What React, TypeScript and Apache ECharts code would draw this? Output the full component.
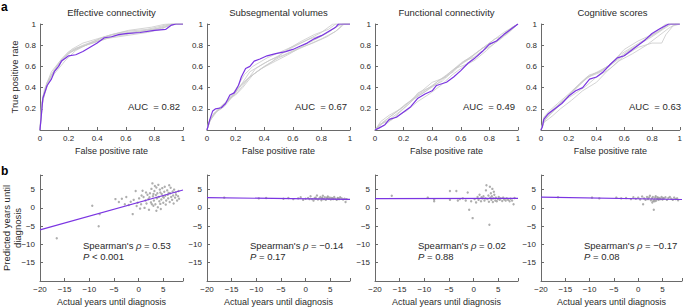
import React, { useEffect, useRef } from "react";
import * as echarts from "echarts";

// ---------- Data ----------
const panelTitles = ["Effective connectivity", "Subsegmental volumes", "Functional connectivity", "Cognitive scores"];
const aucLabels = ["AUC  = 0.82", "AUC  = 0.67", "AUC  = 0.49", "AUC  = 0.63"];
const rocTicks = [0, 0.2, 0.4, 0.6, 0.8, 1];

const ecPurple = [[0,0],[0.01,0.15],[0.02,0.3],[0.05,0.42],[0.08,0.48],[0.1,0.55],[0.13,0.6],[0.15,0.65],[0.18,0.68],[0.2,0.7],[0.25,0.71],[0.3,0.74],[0.35,0.78],[0.4,0.82],[0.45,0.87],[0.5,0.88],[0.55,0.9],[0.6,0.91],[0.7,0.92],[0.8,0.94],[0.88,0.95],[0.92,0.99],[0.95,1],[1,1]];
const ecGrey = [
  [[0,0],[0.02,0.3],[0.05,0.45],[0.1,0.57],[0.15,0.67],[0.2,0.74],[0.3,0.8],[0.4,0.85],[0.5,0.9],[0.6,0.93],[0.75,0.95],[0.85,0.98],[0.9,1],[1,1]],
  [[0,0],[0.01,0.2],[0.04,0.4],[0.08,0.52],[0.13,0.62],[0.2,0.72],[0.28,0.78],[0.38,0.83],[0.5,0.88],[0.6,0.9],[0.7,0.93],[0.82,0.96],[0.92,1],[1,1]],
  [[0,0],[0.02,0.28],[0.06,0.46],[0.1,0.55],[0.15,0.64],[0.22,0.76],[0.3,0.82],[0.4,0.86],[0.5,0.9],[0.62,0.94],[0.78,0.97],[0.88,1],[1,1]],
  [[0,0],[0.01,0.25],[0.05,0.42],[0.1,0.53],[0.18,0.66],[0.25,0.75],[0.35,0.82],[0.45,0.88],[0.55,0.91],[0.68,0.93],[0.8,0.95],[0.9,0.98],[0.95,1],[1,1]],
  [[0,0],[0.02,0.32],[0.05,0.44],[0.12,0.6],[0.18,0.7],[0.25,0.77],[0.32,0.8],[0.42,0.84],[0.55,0.9],[0.65,0.92],[0.75,0.93],[0.85,0.96],[0.93,1],[1,1]],
  [[0,0],[0.01,0.22],[0.03,0.38],[0.08,0.55],[0.14,0.65],[0.2,0.73],[0.3,0.79],[0.45,0.86],[0.55,0.88],[0.65,0.9],[0.75,0.92],[0.85,0.95],[0.9,0.99],[1,1]],
];

const svPurple = [[0,0],[0.01,0.05],[0.02,0.1],[0.04,0.18],[0.06,0.2],[0.1,0.21],[0.13,0.25],[0.16,0.33],[0.19,0.35],[0.22,0.42],[0.24,0.5],[0.27,0.58],[0.3,0.6],[0.33,0.65],[0.37,0.67],[0.42,0.7],[0.48,0.72],[0.55,0.74],[0.6,0.76],[0.65,0.79],[0.7,0.82],[0.75,0.86],[0.8,0.89],[0.85,0.93],[0.9,0.97],[0.92,1],[1,1]];
const svGrey = [
  [[0,0],[0.02,0.08],[0.05,0.15],[0.1,0.22],[0.15,0.28],[0.2,0.36],[0.25,0.45],[0.3,0.55],[0.4,0.63],[0.5,0.7],[0.6,0.78],[0.7,0.85],[0.8,0.92],[0.88,1],[1,1]],
  [[0,0],[0.02,0.1],[0.06,0.17],[0.12,0.24],[0.18,0.32],[0.24,0.42],[0.3,0.5],[0.38,0.58],[0.48,0.65],[0.58,0.72],[0.68,0.8],[0.78,0.87],[0.86,0.93],[0.93,1],[1,1]],
  [[0,0],[0.01,0.06],[0.04,0.14],[0.08,0.2],[0.14,0.27],[0.2,0.38],[0.26,0.52],[0.32,0.6],[0.42,0.68],[0.52,0.74],[0.62,0.8],[0.72,0.86],[0.82,0.9],[0.9,0.97],[0.95,1],[1,1]],
  [[0,0],[0.03,0.12],[0.07,0.18],[0.12,0.22],[0.17,0.3],[0.22,0.4],[0.28,0.48],[0.35,0.55],[0.45,0.64],[0.55,0.75],[0.65,0.83],[0.75,0.9],[0.85,0.95],[0.9,1],[1,1]],
  [[0,0],[0.02,0.09],[0.05,0.16],[0.1,0.2],[0.16,0.3],[0.21,0.35],[0.27,0.45],[0.34,0.58],[0.44,0.66],[0.54,0.71],[0.64,0.77],[0.74,0.82],[0.84,0.88],[0.92,0.95],[0.96,1],[1,1]],
  [[0,0],[0.01,0.07],[0.05,0.14],[0.09,0.21],[0.15,0.29],[0.2,0.33],[0.25,0.4],[0.32,0.52],[0.4,0.6],[0.5,0.68],[0.6,0.74],[0.7,0.8],[0.8,0.86],[0.9,0.93],[0.95,1],[1,1]],
];

const fcPurple = [[0,0],[0.03,0.02],[0.07,0.05],[0.1,0.1],[0.15,0.12],[0.2,0.17],[0.25,0.22],[0.3,0.3],[0.35,0.34],[0.4,0.37],[0.43,0.42],[0.5,0.45],[0.55,0.5],[0.6,0.56],[0.65,0.63],[0.7,0.68],[0.75,0.74],[0.8,0.81],[0.85,0.84],[0.9,0.9],[0.95,0.95],[1,1]];
const fcGrey = [
  [[0,0],[0.1,0.12],[0.2,0.22],[0.3,0.33],[0.4,0.42],[0.5,0.52],[0.6,0.62],[0.7,0.72],[0.8,0.82],[0.9,0.92],[1,1]],
  [[0,0],[0.05,0.06],[0.12,0.1],[0.2,0.2],[0.28,0.3],[0.36,0.37],[0.45,0.47],[0.55,0.55],[0.62,0.65],[0.72,0.7],[0.8,0.8],[0.88,0.87],[0.95,0.96],[1,1]],
  [[0,0],[0.04,0.08],[0.1,0.14],[0.18,0.2],[0.25,0.28],[0.32,0.36],[0.4,0.45],[0.5,0.5],[0.58,0.6],[0.66,0.67],[0.75,0.77],[0.85,0.84],[0.92,0.93],[1,1]],
  [[0,0],[0.06,0.04],[0.14,0.12],[0.22,0.18],[0.3,0.27],[0.38,0.34],[0.46,0.42],[0.54,0.52],[0.62,0.6],[0.7,0.66],[0.78,0.75],[0.86,0.85],[0.94,0.93],[1,1]],
  [[0,0],[0.03,0.05],[0.09,0.09],[0.16,0.16],[0.24,0.25],[0.3,0.35],[0.38,0.4],[0.47,0.46],[0.56,0.58],[0.64,0.62],[0.73,0.73],[0.82,0.8],[0.9,0.88],[0.96,0.97],[1,1]],
  [[0,0],[0.05,0.07],[0.13,0.15],[0.21,0.24],[0.29,0.31],[0.37,0.38],[0.44,0.44],[0.52,0.54],[0.6,0.63],[0.68,0.7],[0.76,0.78],[0.84,0.86],[0.92,0.9],[1,1]],
];

const csPurple = [[0,0],[0.01,0.03],[0.02,0.1],[0.05,0.15],[0.1,0.2],[0.15,0.25],[0.2,0.32],[0.25,0.37],[0.3,0.4],[0.35,0.48],[0.4,0.5],[0.45,0.55],[0.5,0.62],[0.55,0.68],[0.6,0.7],[0.65,0.75],[0.7,0.8],[0.75,0.85],[0.8,0.91],[0.85,0.95],[0.92,1],[1,1]];
const csGrey = [
  [[0,0],[0.02,0.12],[0.06,0.18],[0.12,0.25],[0.2,0.34],[0.28,0.44],[0.35,0.52],[0.45,0.56],[0.55,0.66],[0.65,0.76],[0.75,0.85],[0.85,0.93],[0.92,1],[1,1]],
  [[0,0],[0.02,0.08],[0.07,0.15],[0.14,0.24],[0.22,0.36],[0.3,0.46],[0.38,0.53],[0.48,0.6],[0.58,0.72],[0.68,0.8],[0.78,0.88],[0.88,0.96],[0.93,1],[1,1]],
  [[0,0],[0.03,0.1],[0.08,0.17],[0.15,0.27],[0.23,0.33],[0.32,0.41],[0.4,0.5],[0.5,0.58],[0.6,0.7],[0.7,0.78],[0.8,0.82],[0.87,0.82],[0.9,0.9],[0.95,0.98],[1,1]],
  [[0,0],[0.01,0.05],[0.05,0.14],[0.1,0.2],[0.18,0.3],[0.26,0.4],[0.34,0.5],[0.42,0.54],[0.52,0.64],[0.62,0.74],[0.72,0.82],[0.8,0.88],[0.88,0.95],[0.94,1],[1,1]],
  [[0,0],[0.03,0.13],[0.09,0.2],[0.16,0.28],[0.24,0.38],[0.33,0.5],[0.42,0.55],[0.5,0.62],[0.6,0.76],[0.7,0.84],[0.8,0.9],[0.86,0.96],[0.9,1],[1,1]],
  [[0,0],[0.02,0.07],[0.08,0.13],[0.14,0.2],[0.22,0.28],[0.3,0.37],[0.4,0.45],[0.48,0.56],[0.56,0.65],[0.66,0.72],[0.76,0.8],[0.84,0.88],[0.92,0.96],[0.97,1],[1,1]],
];

const spearmanTexts = [
  "Spearman's {i|ρ} = 0.53\n{i|P} < 0.001",
  "Spearman's {i|ρ} = −0.14\n{i|P} = 0.17",
  "Spearman's {i|ρ} = 0.02\n{i|P} = 0.88",
  "Spearman's {i|ρ} = −0.17\n{i|P} = 0.08",
];

const b1Points = [[-16.6,-8.3],[-9.4,0.6],[-8.1,-5.0],[-7.9,-1.7],[-4.7,2.4],[-4.0,1.6],[-3.4,2.5],[-2.8,1.0],[-2.5,3.0],[-2.0,0.8],[-1.6,1.7],[-1.2,-1.7],[-1.0,2.2],[-0.6,4.6],[-0.4,0.5],[-0.2,1.4],[0.1,2.6],[0.3,-0.2],[0.5,1.0],[0.8,4.7],[1.0,3.0],[1.2,0.0],[1.4,2.0],[1.6,1.2],[1.8,3.6],[2.0,2.4],[2.1,-0.5],[2.3,4.0],[2.5,1.5],[2.6,5.2],[2.8,6.7],[2.9,3.2],[3.0,0.6],[3.1,2.0],[3.2,4.6],[3.3,6.0],[3.4,1.0],[3.5,3.5],[3.6,5.6],[3.7,2.6],[3.8,4.0],[3.9,0.2],[4.0,6.3],[4.1,3.0],[4.2,1.8],[4.3,5.0],[4.4,4.2],[4.5,-0.3],[4.6,2.3],[4.7,3.8],[4.8,5.4],[5.0,1.4],[5.1,2.8],[5.2,4.4],[5.4,3.3],[5.5,0.9],[5.6,2.0],[5.8,4.8],[5.9,3.6],[6.0,2.6],[6.2,6.2],[6.3,1.6],[6.4,4.0],[6.5,5.5],[6.6,3.0],[6.8,2.2],[6.9,4.5],[7.0,3.4],[7.1,1.2],[7.2,5.0],[7.4,2.8],[7.5,4.2],[7.6,3.6],[7.8,2.0],[8.0,3.2],[8.1,4.6],[8.2,2.5],[3.0,3.8],[2.2,2.9],[1.5,4.2],[0.6,3.4],[4.9,3.1],[5.3,5.8],[6.1,4.1],[2.7,1.0],[3.6,-0.8],[4.4,1.1]];
const b2Points = [[-16.5,2.8],[-9.5,2.6],[-8,2.7],[-4.5,2.5],[-3.5,2.7],[-2.5,2.4],[-1.5,2.6],[-1,2.9],[-0.5,2.2],[0,2.5],[0.5,2.7],[1,3.2],[1.3,2.4],[1.6,2.0],[2,2.8],[2.3,3.4],[2.5,2.3],[2.8,2.6],[3,3.0],[3.2,2.1],[3.4,2.7],[3.5,3.3],[3.7,2.4],[3.9,2.9],[4.1,2.2],[4.3,2.6],[4.5,3.1],[4.7,2.5],[4.9,2.8],[5.1,2.3],[5.3,2.7],[5.6,2.4],[5.8,3.0],[6,2.5],[6.3,2.2],[6.5,2.7],[6.8,2.4],[7,2.9],[7.3,2.6],[7.6,2.3],[7.9,2.5],[8.1,1.6],[8.3,2.4],[2.1,2.5],[3.3,2.6],[4.4,2.8],[5.5,2.6],[6.6,2.6],[1.8,2.6],[0.8,2.4]];
const b3Points = [[-16.6,3.3],[-9.3,2.8],[-8,1.8],[-8,2.3],[-4.8,4.6],[-4.8,2.2],[-3.5,4.6],[-3.2,2.0],[-2.8,2.4],[-2.2,2.6],[-1.6,2.0],[-1.2,4.2],[-0.9,-0.5],[-0.5,1.8],[-0.2,-2.8],[0.2,2.4],[0.5,1.5],[0.8,3.0],[1.0,2.2],[1.2,3.6],[1.5,1.8],[1.8,2.6],[2.0,3.2],[2.2,2.0],[2.5,4.8],[2.6,6.2],[2.8,2.4],[3.0,3.4],[3.1,1.7],[3.2,-4.6],[3.3,5.8],[3.4,2.8],[3.5,4.0],[3.6,2.2],[3.7,3.2],[3.8,5.2],[3.9,1.6],[4.0,2.6],[4.1,4.4],[4.2,3.6],[4.4,2.0],[4.5,2.8],[4.7,1.8],[4.9,2.4],[5.1,3.0],[5.3,2.2],[5.5,2.6],[5.8,1.9],[6.0,2.8],[6.2,2.3],[6.5,2.0],[6.7,2.6],[7.0,2.2],[7.3,1.8],[7.5,2.5],[7.8,2.0],[8.1,1.0],[8.3,2.7],[2.4,2.6],[1.6,2.9]];
const b4Points = [[-16.5,2.9],[-9.5,2.8],[-8,2.6],[-4.5,2.8],[-3.5,2.6],[-2.5,2.7],[-1.5,2.4],[-1,2.9],[-0.5,2.5],[0,2.8],[0.4,2.3],[0.8,3.1],[1,1.0],[1.2,2.6],[1.5,2.2],[1.8,3.0],[2.0,2.4],[2.2,2.8],[2.4,3.3],[2.6,2.1],[2.8,2.6],[3.0,3.0],[3.1,1.9],[3.2,-0.5],[3.3,2.3],[3.5,2.8],[3.6,3.2],[3.7,2.0],[3.9,2.5],[4.0,2.9],[4.2,2.2],[4.4,2.7],[4.6,2.4],[4.8,3.0],[5.0,2.3],[5.3,2.6],[5.6,2.9],[5.9,2.2],[6.2,2.7],[6.5,3.0],[6.8,2.5],[7.1,2.2],[7.4,2.8],[7.7,2.4],[8.0,2.6],[8.2,2.1],[2.9,1.5],[3.4,1.8],[4.1,2.6],[5.1,2.7]];

const b1Fit = [[-20,-6.0],[9,4.9]];
const b2Fit = [[-20,2.8],[9,2.35]];
const b3Fit = [[-20,2.55],[9,2.6]];
const b4Fit = [[-20,2.95],[9,2.3]];

// ---------- Style ----------
const FONT = "Liberation Sans, Arial, sans-serif";
const TXT = "#2a2a2a";
const PURPLE = "#7b35e2";
const GREY = "#c9c9c9";
const AXIS = "#6a6a6a";

const lefts = [40, 207, 375, 541];
const PW = 143;
const TOP1 = 24, TOP2 = 175, PH = 106;

const minus = (v: number) => (v < 0 ? "\u2212" + Math.abs(v) : String(v));

export default function App() {
  const ref = useRef<HTMLDivElement>(null);
  useEffect(() => {
    document.body.style.margin = "0";
    if (!ref.current) return;
    const chart = echarts.init(ref.current, undefined, { renderer: "svg" });

    const rocPurple = [ecPurple, svPurple, fcPurple, csPurple];
    const rocGrey = [ecGrey, svGrey, fcGrey, csGrey];
    const scatters = [b1Points, b2Points, b3Points, b4Points];
    const fits = [b1Fit, b2Fit, b3Fit, b4Fit];

    const grid: any[] = new Array(8);
    const xAxis: any[] = new Array(8);
    const yAxis: any[] = new Array(8);
    const series: any[] = [];
    const graphic: any[] = [];

    const axisCommon = {
      axisLine: { show: true, onZero: false, lineStyle: { color: AXIS, width: 1 } },
      axisTick: { show: true, inside: true, length: 3, lineStyle: { color: AXIS } },
      splitLine: { show: false },
      nameTextStyle: { fontFamily: FONT, fontSize: 9, color: TXT },
    };
    const labelCommon = { fontFamily: FONT, fontSize: 8, color: TXT };

    for (let i = 0; i < 4; i++) {
      // top ROC grid
      grid[i] = { left: lefts[i], top: TOP1, width: PW, height: PH };
      xAxis[i] = {
        ...axisCommon, gridIndex: i, type: "value", min: rocTicks[0], max: rocTicks[rocTicks.length - 1], interval: 0.2,
        name: "False positive rate", nameLocation: "middle", nameGap: 16,
        axisLabel: { ...labelCommon, margin: 4, formatter: (v: number) => String(+v.toFixed(1)) },
      };
      yAxis[i] = {
        ...axisCommon, gridIndex: i, type: "value", min: 0, max: 1, interval: 0.2,
        axisLabel: { ...labelCommon, margin: 4, formatter: (v: number) => (v === 0 ? "" : String(+v.toFixed(1))) },
      };
      rocGrey[i].forEach((d) => {
        series.push({
          type: "line", xAxisIndex: i, yAxisIndex: i, data: d, symbol: "none",
          lineStyle: { color: GREY, width: 0.8 }, silent: true,
        });
      });
      series.push({
        type: "line", xAxisIndex: i, yAxisIndex: i, data: rocPurple[i], symbol: "none",
        lineStyle: { color: PURPLE, width: 1.2 }, silent: true, z: 5,
      });

      // bottom scatter grid
      const g = i + 4;
      grid[g] = { left: lefts[i], top: TOP2, width: PW, height: PH };
      xAxis[g] = {
        ...axisCommon, gridIndex: g, type: "value", min: -20, max: 9, interval: 5,
        name: "Actual years until diagnosis", nameLocation: "middle", nameGap: 16,
        axisLabel: { ...labelCommon, margin: 4, formatter: (v: number) => (v > 5 ? "" : minus(v)) },
      };
      yAxis[g] = {
        ...axisCommon, gridIndex: g, type: "value", min: -20, max: 9, interval: 5,
        axisLabel: { ...labelCommon, margin: 5, formatter: (v: number) => (v === -20 || v > 5 ? "" : minus(v)) },
      };
      series.push({
        type: "scatter", xAxisIndex: g, yAxisIndex: g, data: scatters[i], symbolSize: 2.4,
        itemStyle: { color: "#9a9a9a" }, silent: true,
      });
      series.push({
        type: "line", xAxisIndex: g, yAxisIndex: g, data: fits[i], symbol: "none",
        lineStyle: { color: PURPLE, width: 1.2 }, silent: true, z: 5,
      });

      const cx = lefts[i] + PW / 2;
      graphic.push({
        type: "text", x: cx, y: 12,
        style: { text: panelTitles[i], fontFamily: FONT, fontSize: 9.5, fill: TXT, align: "center", verticalAlign: "middle" },
      });
      graphic.push({
        type: "text", x: lefts[i] + 88, y: 106,
        style: { text: aucLabels[i], fontFamily: FONT, fontSize: 9.5, fill: TXT, align: "left", verticalAlign: "middle" },
      });
      graphic.push({
        type: "text", x: lefts[i] + 43, y: 240,
        style: {
          text: spearmanTexts[i], fontFamily: FONT, fontSize: 9.5, fill: TXT, align: "left", verticalAlign: "top", lineHeight: 11,
          rich: { i: { fontStyle: "italic", fontFamily: FONT, fontSize: 9.5, fill: TXT } },
        },
      });
    }

    graphic.push(
      { type: "text", x: 1, y: 7, style: { text: "a", fontFamily: FONT, fontSize: 12, fontWeight: "bold", fill: "#000", verticalAlign: "middle" } },
      { type: "text", x: 1, y: 171, style: { text: "b", fontFamily: FONT, fontSize: 12, fontWeight: "bold", fill: "#000", verticalAlign: "middle" } },
      { type: "text", x: 14, y: 77, rotation: Math.PI / 2, style: { text: "True positive rate", fontFamily: FONT, fontSize: 9.5, fill: TXT, align: "center", verticalAlign: "middle" } },
      { type: "text", x: 6, y: 228, rotation: Math.PI / 2, style: { text: "Predicted years until", fontFamily: FONT, fontSize: 9.5, fill: TXT, align: "center", verticalAlign: "middle" } },
      { type: "text", x: 17, y: 228, rotation: Math.PI / 2, style: { text: "diagnosis", fontFamily: FONT, fontSize: 9.5, fill: TXT, align: "center", verticalAlign: "middle" } },
    );

    chart.setOption({
      animation: false,
      backgroundColor: "#ffffff",
      textStyle: { fontFamily: FONT },
      grid, xAxis, yAxis, series, graphic,
    });
    return () => chart.dispose();
  }, []);
  return <div ref={ref} style={{ width: 685, height: 307 }} />;
}
